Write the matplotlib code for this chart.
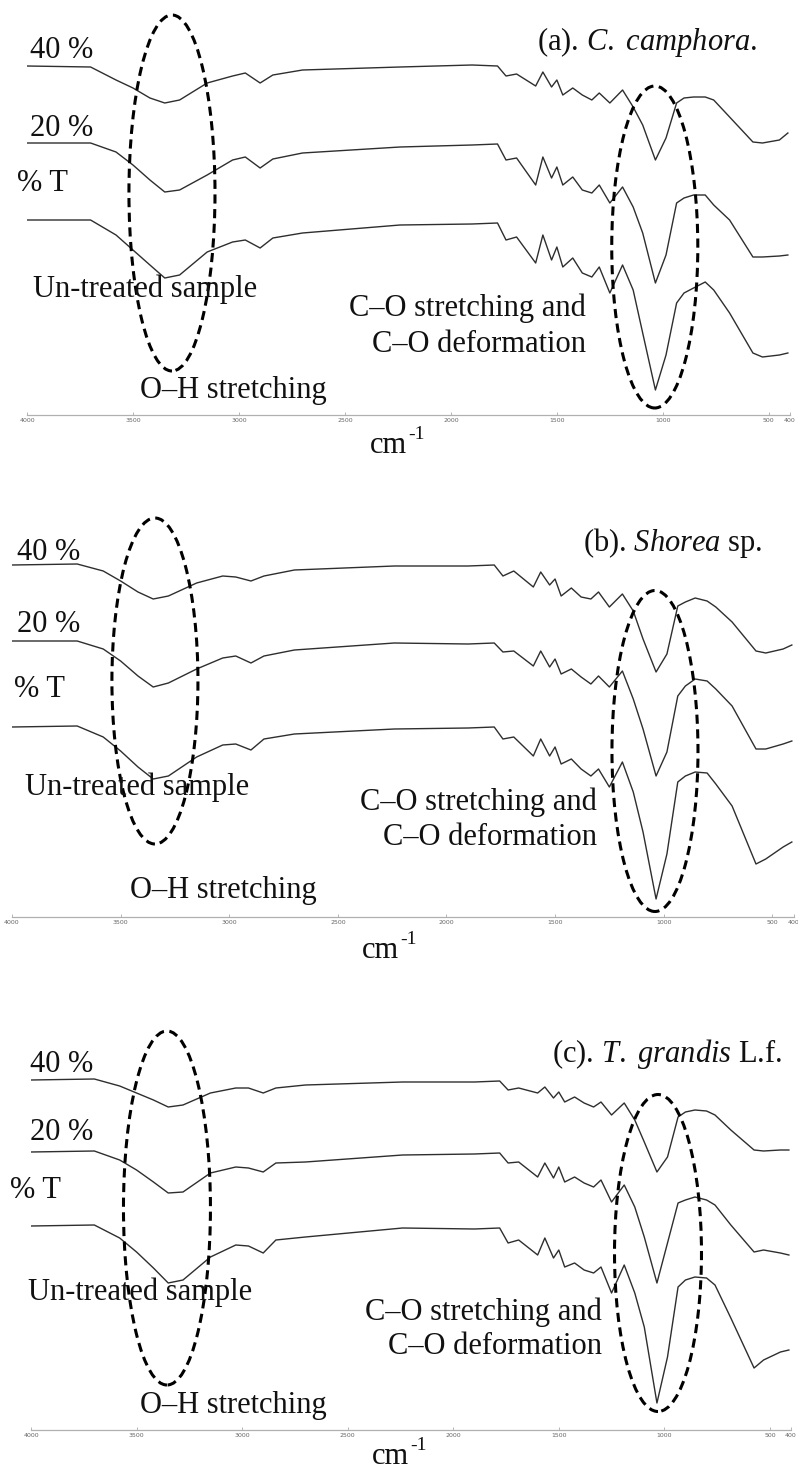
import matplotlib
matplotlib.use("Agg")
import matplotlib.pyplot as plt
from matplotlib.patches import Ellipse

plt.rcParams['font.family'] = ['Liberation Serif', 'DejaVu Serif']
plt.rcParams['mathtext.fontset'] = 'custom'
plt.rcParams['mathtext.rm'] = 'Liberation Serif'
plt.rcParams['mathtext.it'] = 'Liberation Serif:italic'

# wavenumbers (cm-1) shared by all spectra
wn = [4000, 3700, 3580, 3500, 3420, 3350, 3280, 3150, 3030, 2970,
      2900, 2840, 2700, 2240, 1900, 1780, 1740, 1690, 1600, 1566,
      1525, 1500, 1472, 1425, 1380, 1335, 1300, 1250, 1190, 1140,
      1095, 1035, 985, 935, 900, 855, 800, 760, 685, 575,
      530, 450, 410]

# transmittance, offset curves (a.u.) - (a) C. camphora
a_40 = [349, 348, 335, 327, 317, 312, 315, 332, 339, 342, 332, 340, 345, 348, 350, 349, 339, 341, 329, 343,
        328, 335, 320, 327, 320, 315, 322, 312, 325, 308, 290, 255, 277, 312, 317, 318, 318, 315, 298, 273,
        272, 275, 282]
a_20 = [272, 272, 263, 250, 235, 223, 225, 240, 255, 258, 247, 256, 262, 268, 270, 271, 255, 257, 230, 258,
        237, 248, 230, 238, 225, 222, 230, 212, 228, 208, 182, 132, 160, 212, 217, 220, 220, 210, 195, 158,
        158, 159, 160]
a_0 = [195, 195, 180, 165, 150, 137, 140, 163, 173, 175, 167, 177, 182, 190, 191, 192, 175, 178, 152, 180,
       155, 168, 148, 157, 142, 138, 148, 122, 150, 125, 82, 25, 60, 112, 122, 127, 133, 125, 102, 62,
       58, 60, 62]

# (b) Shorea sp.
b_40 = [352, 353, 346, 336, 325, 318, 321, 334, 341, 340, 336, 341, 347, 351, 351, 352, 341, 346, 330, 345,
        332, 338, 321, 329, 320, 318, 325, 310, 323, 306, 278, 245, 263, 311, 315, 319, 316, 310, 295, 266,
        264, 268, 272]
b_20 = [276, 276, 268, 256, 241, 230, 234, 248, 259, 261, 254, 261, 267, 274, 273, 274, 265, 266, 251, 266,
        250, 258, 243, 248, 240, 233, 241, 230, 246, 218, 188, 141, 165, 221, 231, 238, 236, 228, 211, 168,
        168, 173, 176]
b_0 = [190, 191, 180, 166, 150, 138, 141, 160, 172, 173, 167, 178, 183, 188, 189, 190, 178, 180, 161, 178,
       161, 170, 153, 158, 148, 141, 148, 130, 155, 125, 85, 18, 63, 135, 141, 145, 144, 133, 111, 53,
       58, 70, 75]

# (c) T. grandis L.f.
c_40 = [350, 351, 344, 337, 330, 323, 325, 337, 342, 342, 337, 342, 345, 348, 348, 349, 340, 342, 337, 343,
        332, 338, 328, 333, 327, 323, 328, 315, 327, 310, 288, 258, 273, 313, 318, 320, 319, 315, 300, 280,
        279, 280, 280]
c_20 = [278, 279, 270, 260, 248, 237, 238, 257, 263, 262, 258, 267, 268, 275, 276, 277, 267, 268, 253, 267,
        252, 263, 248, 253, 247, 243, 250, 228, 245, 223, 193, 147, 187, 227, 230, 233, 230, 225, 205, 178,
        180, 177, 175]
c_0 = [204, 205, 192, 178, 162, 147, 150, 173, 185, 184, 177, 190, 193, 202, 201, 202, 187, 190, 175, 192,
       172, 180, 163, 167, 160, 157, 163, 137, 165, 137, 103, 27, 73, 143, 150, 153, 152, 145, 112, 62,
       70, 78, 80]

ticks = [4000, 3500, 3000, 2500, 2000, 1500, 1000, 500, 400]

W, H = 798, 1469
fig = plt.figure(figsize=(W / 100, H / 100), dpi=100)

# panel boxes in pixels: left, right, top, bottom(axis line)
panels = [
    dict(box=(27, 790, 0, 415), curves=(a_40, a_20, a_0), oh=(3316, 222, 406, 356), co=(1038, 168, 406, 322)),
    dict(box=(12, 794, 500, 917), curves=(b_40, b_20, b_0), oh=(3342, 236, 396, 326), co=(1040, 166, 396, 321)),
    dict(box=(31, 791, 1000, 1430), curves=(c_40, c_20, c_0), oh=(3356, 222, 412, 354), co=(1030, 177, 412, 317)),
]

for p in panels:
    l, r, t, b = p['box']
    ax = fig.add_axes([l / W, 1 - b / H, (r - l) / W, (b - t) / H])
    ax.patch.set_alpha(0)
    for yv in p['curves']:
        ax.plot(wn, yv, color='#2e2e2e', lw=1.0)
    ax.set_xlim(4000, 400)
    ax.set_ylim(0, b - t)
    for s in ['top', 'right', 'left']:
        ax.spines[s].set_visible(False)
    ax.spines['bottom'].set_color('#b0b0b0')
    ax.spines['bottom'].set_linewidth(0.9)
    ax.set_yticks([])
    ax.set_xticks(ticks)
    ax.set_xticklabels([str(v) for v in ticks])
    ax.tick_params(axis='x', direction='in', length=2, width=0.5, color='#999999',
                   labelsize=4.5, labelcolor='#666666', pad=2)
    for lab in ax.get_xticklabels():
        lab.set_family('DejaVu Sans')
    for cx, cy, w, h in (p['oh'], p['co']):
        ax.add_patch(Ellipse((cx, cy), w, h, fill=False, ec='black', lw=2.2,
                             ls=(0, (3, 1.8)), clip_on=False, zorder=5))

# overlay for text, in pixel coordinates
ov = fig.add_axes([0, 0, 1, 1])
ov.set_xlim(0, W)
ov.set_ylim(H, 0)
ov.axis('off')
ov.patch.set_alpha(0)

fs = 22
texts = [
    # panel a
    (30, 50, '40 %', 'left'), (30, 128, '20 %', 'left'), (17, 183, '% T', 'left'),
    (33, 289, 'Un-treated sample', 'left'), (586, 308, 'C–O stretching and', 'right'),
    (586, 344, 'C–O deformation', 'right'), (140, 390, 'O–H stretching', 'left'),
    (757, 42, r'(a). $\mathit{C.\ camphora}$.', 'right'),
    # panel b
    (17, 552, '40 %', 'left'), (17, 624, '20 %', 'left'), (14, 689, '% T', 'left'),
    (25, 787, 'Un-treated sample', 'left'), (597, 802, 'C–O stretching and', 'right'),
    (597, 837, 'C–O deformation', 'right'), (130, 890, 'O–H stretching', 'left'),
    (763, 543, r'(b). $\mathit{Shorea}$ sp.', 'right'),
    # panel c
    (30, 1064, '40 %', 'left'), (30, 1132, '20 %', 'left'), (10, 1190, '% T', 'left'),
    (28, 1292, 'Un-treated sample', 'left'), (602, 1312, 'C–O stretching and', 'right'),
    (602, 1347, 'C–O deformation', 'right'), (140, 1405, 'O–H stretching', 'left'),
    (782, 1054, r'(c). $\mathit{T.\ grandis}$ L.f.', 'right'),
]
for x, y, s, ha in texts:
    ov.text(x, y, s, fontsize=fs, ha=ha, va='center', color='#111111')

# x axis unit labels: "cm" with a small raised "-1"
for x, y in [(370, 453), (362, 958), (372, 1464)]:
    ov.text(x, y, 'cm', fontsize=fs, ha='left', va='baseline', color='#111111')
    ov.text(x + 38, y - 14, '-1', fontsize=14, ha='left', va='baseline', color='#111111')

fig.savefig('out.png', dpi=100)
